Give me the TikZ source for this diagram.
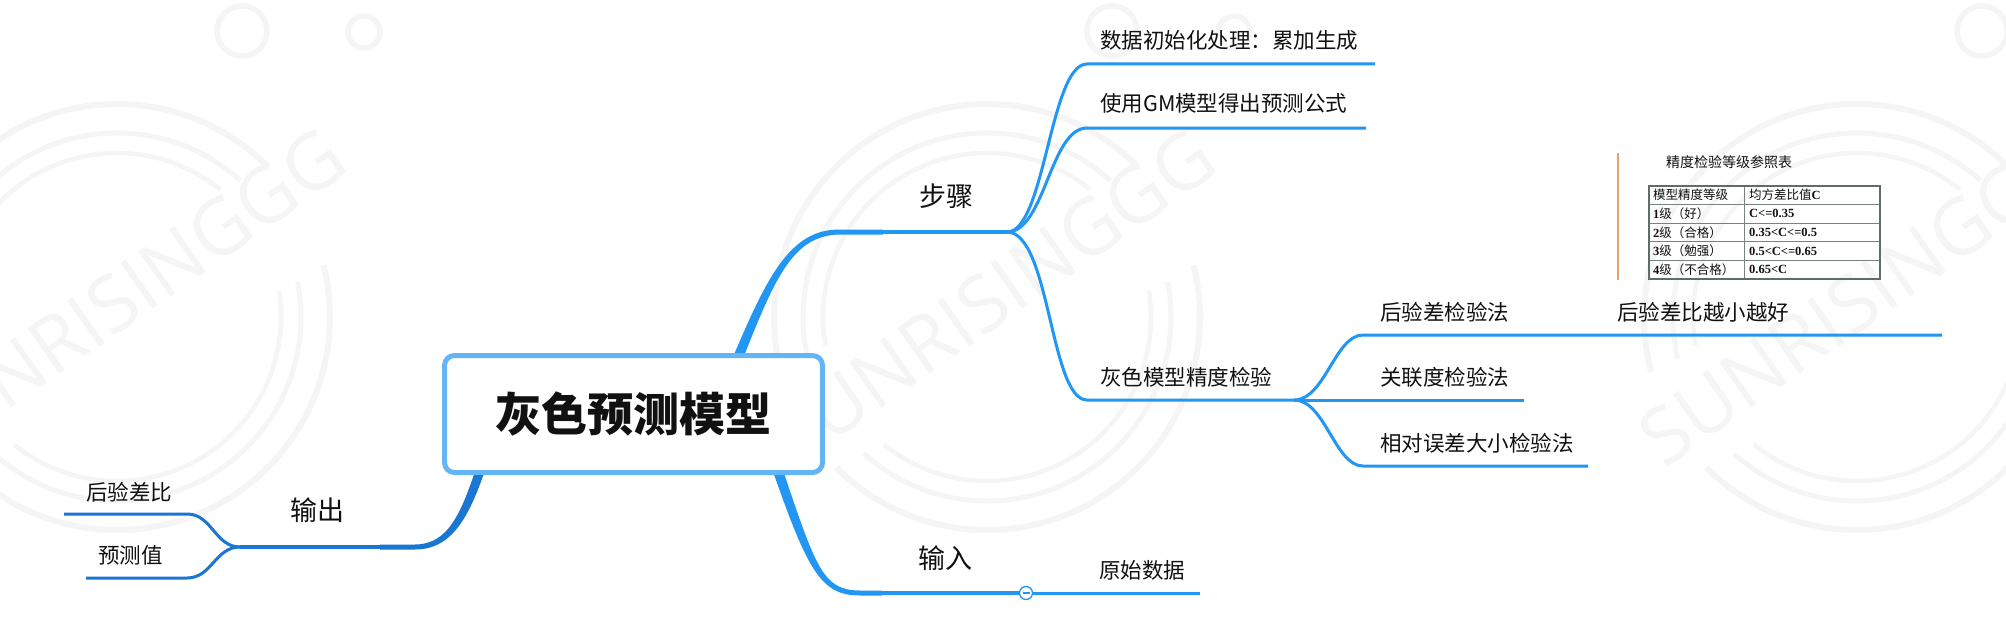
\documentclass[tikz,border=0pt]{standalone}
\usepackage{fontspec}
\setmainfont{Noto Sans CJK SC}
\newfontfamily\tnr{Liberation Serif}
\newfontfamily\wmf{Open Sans}
\newfontfamily\rootfont{Noto Sans CJK SC Black}
\definecolor{brA}{RGB}{33,150,243}
\definecolor{brB}{RGB}{25,118,210}
\definecolor{boxc}{RGB}{100,181,246}
\definecolor{txt}{RGB}{17,17,17}
\definecolor{wm}{RGB}{245,245,245}
\definecolor{tbl}{RGB}{95,108,108}
\definecolor{orng}{RGB}{232,160,110}
\newcommand\tbLat[1]{{\tnr\bfseries #1}}
\newcommand\wmpat[1]{%
  \begin{scope}[shift={(#1,317)},yscale=-1]
    \draw[wm,line width=6] (45:213) arc[start angle=45,end angle=195,radius=213];
    \draw[wm,line width=6] (225:213) arc[start angle=225,end angle=374,radius=213];
    \draw[wm,line width=5] (48:184) arc[start angle=48,end angle=193,radius=184];
    \draw[wm,line width=5] (228:184) arc[start angle=228,end angle=371,radius=184];
    \draw[wm,line width=4.5] (51:164) arc[start angle=51,end angle=190,radius=164];
    \draw[wm,line width=4.5] (231:164) arc[start angle=231,end angle=369,radius=164];
    \draw[wm,line width=5.5] (125,286) circle[radius=25];
    \draw[wm,line width=5.5] (247,285) circle[radius=16];
  \end{scope}
  \node[wmtxt,rotate=35] at ({#1+5},297) {SUNRISINGGG};}
\begin{document}
\begin{tikzpicture}[x=1pt,y=-1pt,
  wmtxt/.style={font=\wmf\fontsize{78}{78}\selectfont,text=wm,inner sep=0},
  lvA/.style={font=\fontsize{27}{27}\selectfont,text=txt,inner sep=0},
  lvB/.style={font=\fontsize{21.5}{21.5}\selectfont,text=txt,inner sep=0,anchor=west},
  lnA/.style={draw=brA,line width=3},
  lnB/.style={draw=brB,line width=3},
  thinA/.style={draw=brA,line width=3.3},
  thinB/.style={draw=brB,line width=3.3},
  cell/.style={anchor=west,inner sep=0,font=\fontsize{12.5}{12.5}\selectfont,text=txt}]
\useasboundingbox (0,0) rectangle (2006,618);
\fill[white] (0,0) rectangle (2006,618);
\clip (0,0) rectangle (2006,618);
% watermark
\wmpat{117}
\wmpat{987}
\wmpat{1857}
% junction coordinates
\coordinate (jS) at (1007,232);
\coordinate (jG) at (1294,400);
\coordinate (jO) at (240,547);
\coordinate (sE) at (883,232);
\coordinate (iE) at (882,593);
\coordinate (oE) at (380,547);
% main branches (tapered)
\fill[brA] (730.4,363.1) .. controls (766.3,278.5) and (789,229) .. (840,229.5) -- (883,229.5) -- (883,234.5) -- (840,234.5) .. controls (791,235) and (773.7,281.5) .. (739.6,366.9) -- cycle;
\fill[brA] (781.7,466.4) .. controls (816,568.5) and (823,590.5) .. (860,590.5) -- (882,590.5) -- (882,595.5) -- (860,595.5) .. controls (821,595.5) and (808,571.5) .. (772.3,469.6) -- cycle;
\fill[brB] (485.3,469.5) .. controls (469,517) and (452,549.5) .. (415,549.5) -- (380,549.5) -- (380,544.5) -- (415,544.5) .. controls (448,544.5) and (461,513.6) .. (476.7,466.5) -- cycle;
\draw[thinA] (sE) -- (jS);
\draw[thinB] (oE) -- (jO);
% step children
\coordinate (e1) at (1375,64);
\coordinate (e2) at (1366,128);
\coordinate (e4) at (1942,335);
\coordinate (e5) at (1524,400);
\coordinate (e6) at (1588,466);
\draw[lnA] (jS) .. controls (1045,232) and (1050,64) .. (1087,64) -- (e1);
\draw[lnA] (jS) .. controls (1045,232) and (1050,128) .. (1087,128) -- (e2);
\draw[lnA] (jS) .. controls (1050,232) and (1050,400) .. (1087,400) -- (jG);
\draw[lnA] (jG) .. controls (1325,400) and (1335,335) .. (1363,335) -- (e4);
\draw[lnA] (jG) -- (e5);
\draw[lnA] (jG) .. controls (1325,400) and (1335,466) .. (1363,466) -- (e6);
% output children
\coordinate (o1) at (64,514);
\coordinate (o2) at (86,578);
\draw[lnB] (jO) .. controls (215,547) and (212,514) .. (187,514) -- (o1);
\draw[lnB] (jO) .. controls (215,547) and (212,578) .. (187,578) -- (o2);
% input
\node[circle,draw=brA,fill=white,line width=1.3,minimum size=13pt,inner sep=0] (col) at (1026,593) {};
\coordinate (i1) at (1200,593);
\draw[thinA] (iE) -- (col.west);
\draw[lnA] (col.east) -- (i1);
\draw[brA,line width=1.3] ([xshift=-3.5pt]col.center) -- ([xshift=3.5pt]col.center);
% root
\node[draw=boxc,line width=5,fill=white,rounded corners=10pt,minimum width=378pt,minimum height=117pt,inner sep=0,text=txt,font=\rootfont\fontsize{46}{46}\selectfont] (root) at (633.5,414) {灰色预测模型};
% labels
\node[lvA] (out) at (317,510) {输出};
\node[lvA] (stp) at (946,196) {步骤};
\node[lvA] (inp) at (945,558) {输入};
\node[lvB] (n1) at (1100,40) {数据初始化处理：累加生成};
\node[lvB] (n2) at (1100,103) {使用GM模型得出预测公式};
\node[lvB] (n3) at (1100,377) {灰色模型精度检验};
\node[lvB] (n4) at (1380,312) {后验差检验法};
\node[lvB] (n4a) at (1617,312) {后验差比越小越好};
\node[lvB] (n5) at (1380,377) {关联度检验法};
\node[lvB] (n6) at (1380,443) {相对误差大小检验法};
\node[lvB] (n7) at (1099,570) {原始数据};
\node[lvB] (m1) at (86,492) {后验差比};
\node[lvB] (m2) at (98,555) {预测值};
% table image
\draw[orng,line width=1.5] (1618,153) -- (1618,280);
\node[font=\fontsize{14}{14}\selectfont,text=txt,inner sep=0] (ttl) at (1729,162) {精度检验等级参照表};
\draw[tbl!85,line width=1] (1649,204.3) -- (1880,204.3) (1649,223) -- (1880,223) (1649,241.7) -- (1880,241.7) (1649,260.3) -- (1880,260.3) (1744,186) -- (1744,279);
\draw[tbl,line width=1.6] (1649,186) rectangle (1880,279);
\node[cell] (c01) at (1653,195.2) {模型精度等级};
\node[cell] (c02) at (1749,195.2) {均方差比值\tbLat{C}};
\node[cell] (c11) at (1653,213.7) {\tbLat{1}级（好）};
\node[cell] (c12) at (1749,213.7) {\tbLat{C<=0.35}};
\node[cell] (c21) at (1653,232.3) {\tbLat{2}级（合格）};
\node[cell] (c22) at (1749,232.3) {\tbLat{0.35<C<=0.5}};
\node[cell] (c31) at (1653,251) {\tbLat{3}级（勉强）};
\node[cell] (c32) at (1749,251) {\tbLat{0.5<C<=0.65}};
\node[cell] (c41) at (1653,269.7) {\tbLat{4}级（不合格）};
\node[cell] (c42) at (1749,269.7) {\tbLat{0.65<C}};
\end{tikzpicture}
\end{document}
